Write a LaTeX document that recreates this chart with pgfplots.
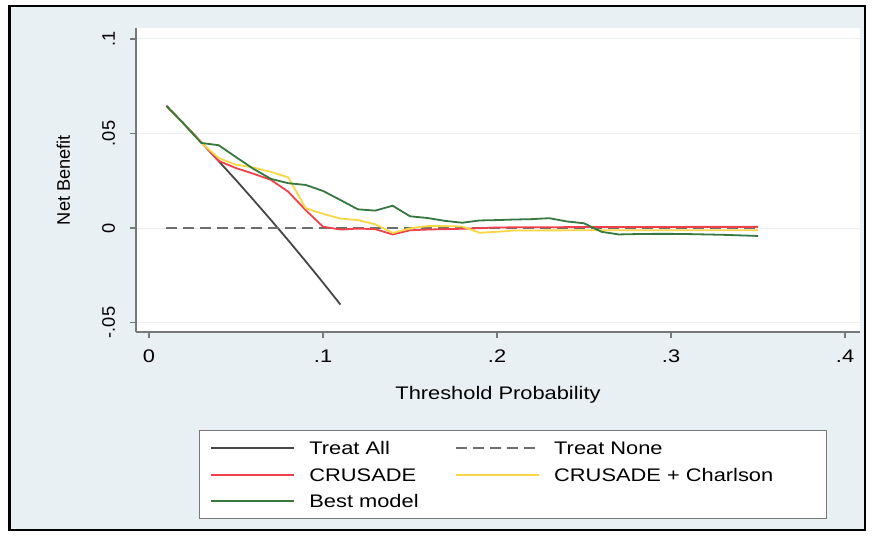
\documentclass[border=0pt]{standalone}
\usepackage{fontspec}
\setmainfont{Liberation Sans}[FakeStretch=1.2]
\newfontfamily\rotsans{Liberation Sans}
\usepackage{pgfplots}
\pgfplotsset{compat=1.18}

\definecolor{regionbg}{RGB}{233,240,243}
\definecolor{gridc}{RGB}{234,240,242}
\definecolor{axisgray}{RGB}{120,120,120}
\definecolor{treatall}{RGB}{70,70,70}
\definecolor{treatnone}{RGB}{110,110,110}
\definecolor{crusade}{RGB}{240,65,75}
\definecolor{charlson}{RGB}{248,215,70}
\definecolor{bestmodel}{RGB}{55,120,65}

\newcommand\lgd[2]{\makebox[#1][l]{#2}}
\newcommand\sz{\fontsize{18.2}{22}\selectfont}

\begin{document}
\begin{tikzpicture}[x=1pt,y=1pt]
\path[use as bounding box] (0,0) rectangle (872,536);
\fill[regionbg] (9.5,6) rectangle (865,530);
\draw[black, line width=2.5pt] (9.5,6) rectangle (865,530);
\begin{axis}[
  at={(136pt,204pt)}, anchor=south west,
  scale only axis, width=724pt, height=304pt,
  xmin=-0.0075, xmax=0.4086, ymin=-0.055, ymax=0.1058,
  axis x line*=bottom, axis y line*=left,
  axis line style={axisgray, line width=1.4pt, -},
  xtick={0,0.1,0.2,0.3,0.4}, xticklabels={0,.1,.2,.3,.4},
  ytick={-0.05,0,0.05,0.1}, yticklabels={-.05,0,.05,.1},
  tick align=outside, major tick length=6pt,
  tick style={axisgray, line width=1.2pt},
  ymajorgrids, grid style={gridc, line width=1pt},
  axis background/.style={fill=white},
  xlabel={Threshold Probability},
  ylabel={\rotsans Net Benefit},
  label style={font=\sz},
  xlabel style={at={(axis description cs:0.5,-0.222)}, anchor=base},
  ylabel style={at={(axis description cs:-0.0912,0.5)}, anchor=base},
  ticklabel style={font=\sz, inner sep=0pt},
  xticklabel style={anchor=base, yshift=-24pt},
  yticklabel style={rotate=90, anchor=base, font=\rotsans\sz, yshift=15pt},
  legend columns=2,
  legend cell align=left,
  legend image code/.code={\draw[#1] (0pt,0pt) -- (83pt,0pt);},
  legend style={at={(axis description cs:0.087,-0.3224)}, anchor=north west,
    fill=white, draw=axisgray, line width=1.2pt,
    inner xsep=11pt, inner ysep=11pt, row sep=13.5pt,
    nodes={inner sep=0pt, text height=13pt, text depth=0pt},
    font=\sz,
    /tikz/every odd column/.append style={column sep=14pt}},
]
% Treat all
\addplot[treatall, line width=1.8pt] coordinates {
  (0.01,0.0646)(0.02,0.0551)(0.03,0.0454)(0.04,0.0354)(0.05,0.0253)
  (0.06,0.0149)(0.07,0.0043)(0.08,-0.0065)(0.09,-0.0176)(0.10,-0.0289)
  (0.11,-0.0405)};
\addlegendentry{\lgd{146pt}{Treat All}}
% Treat none
\addplot[treatnone, line width=1.8pt, dash pattern=on 11pt off 6pt] coordinates {
  (0.01,0)(0.35,0)};
\addlegendentry{\lgd{261pt}{Treat None}}
% CRUSADE
\addplot[crusade, line width=1.8pt] coordinates {
  (0.01,0.0646)(0.02,0.0551)(0.03,0.0455)(0.04,0.0355)(0.05,0.0317)
  (0.06,0.0287)(0.07,0.0255)(0.08,0.0192)(0.09,0.0095)(0.10,0.0007)
  (0.11,-0.0008)(0.12,-0.0003)(0.13,-0.0006)(0.14,-0.0034)(0.15,-0.0012)
  (0.16,-0.0008)(0.17,-0.0006)(0.18,-0.0004)(0.19,-0.0001)(0.20,0.0003)
  (0.22,0.0004)(0.25,0.0005)(0.28,0.0005)(0.31,0.0006)(0.35,0.0006)};
\addlegendentry{\lgd{146pt}{CRUSADE}}
% CRUSADE + Charlson
\addplot[charlson, line width=1.8pt] coordinates {
  (0.01,0.0646)(0.02,0.0551)(0.03,0.0452)(0.04,0.0370)(0.05,0.0335)
  (0.06,0.0320)(0.07,0.0297)(0.08,0.0268)(0.09,0.0105)(0.10,0.0075)
  (0.11,0.0050)(0.12,0.0042)(0.13,0.0020)(0.14,-0.0026)(0.15,-0.0002)
  (0.16,0.0010)(0.17,0.0010)(0.18,0.0008)(0.19,-0.0025)(0.20,-0.0020)
  (0.21,-0.0013)(0.25,-0.0012)(0.30,-0.0012)(0.35,-0.0012)};
\addlegendentry{\lgd{261pt}{CRUSADE + Charlson}}
% Best model
\addplot[bestmodel, line width=1.8pt] coordinates {
  (0.01,0.0646)(0.02,0.0551)(0.03,0.0450)(0.04,0.0438)(0.05,0.0375)
  (0.06,0.0313)(0.07,0.0260)(0.08,0.0237)(0.09,0.0228)(0.10,0.0196)
  (0.11,0.0148)(0.12,0.0099)(0.13,0.0092)(0.14,0.0118)(0.15,0.0062)
  (0.16,0.0053)(0.17,0.0038)(0.18,0.0028)(0.19,0.0040)(0.20,0.0042)
  (0.21,0.0045)(0.22,0.0047)(0.23,0.0052)(0.24,0.0035)(0.25,0.0025)
  (0.26,-0.0020)(0.27,-0.0034)(0.28,-0.0032)(0.29,-0.0031)(0.30,-0.0031)
  (0.31,-0.0032)(0.32,-0.0034)(0.33,-0.0036)(0.34,-0.0039)(0.35,-0.0042)};
\addlegendentry{\lgd{146pt}{Best model}}
\end{axis}
\end{tikzpicture}
\end{document}
